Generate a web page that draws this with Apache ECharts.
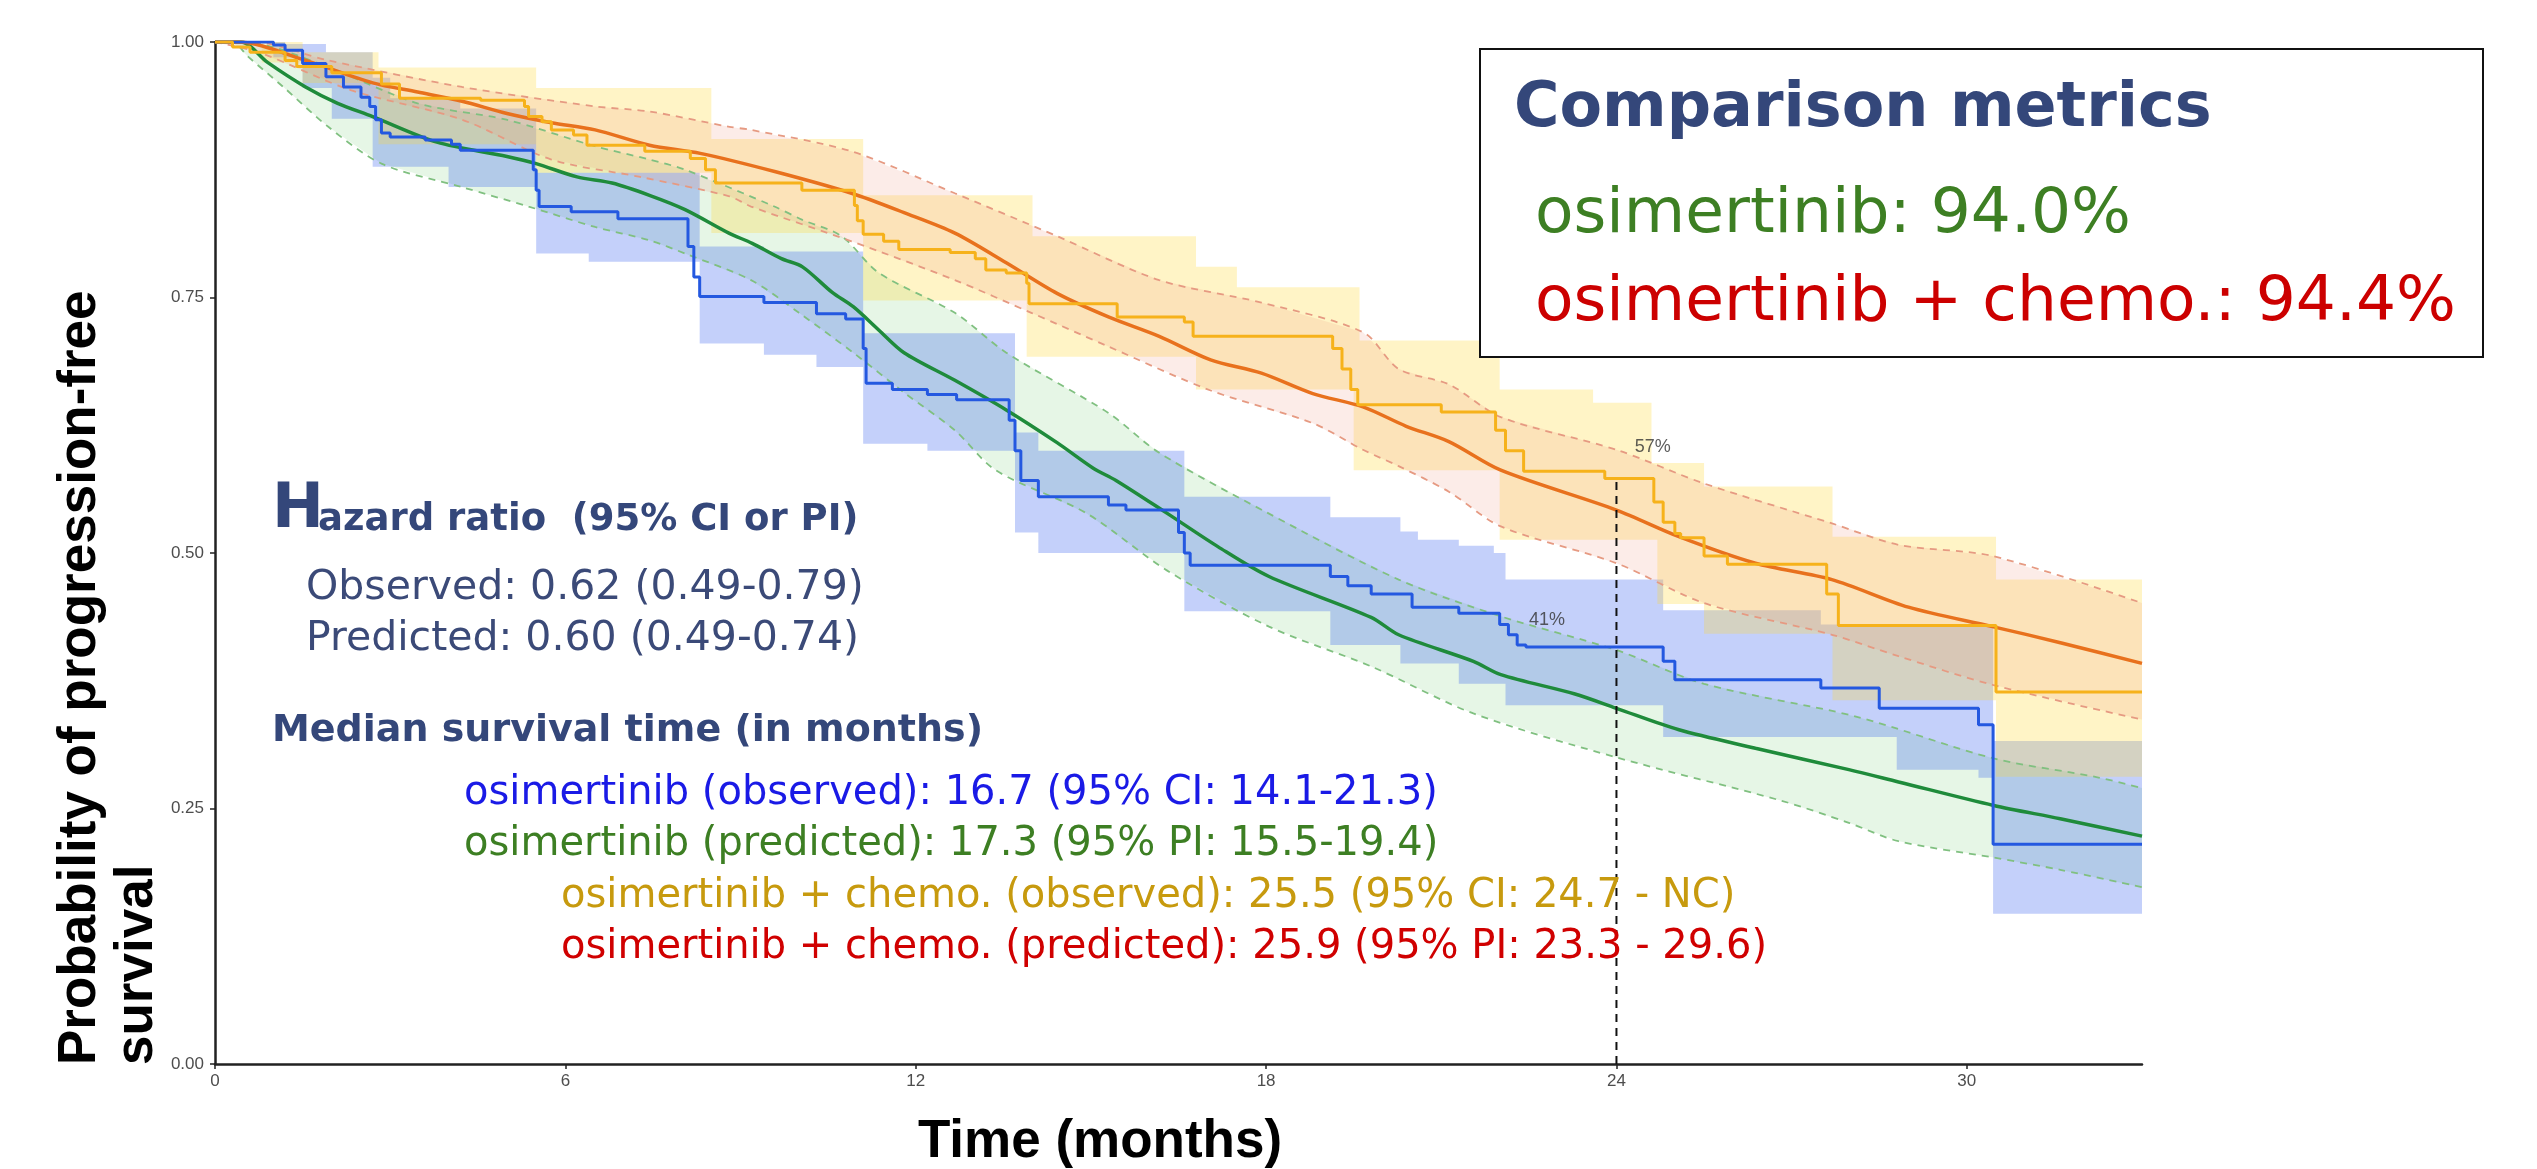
<!DOCTYPE html>
<html><head><meta charset="utf-8">
<script src="https://cdn.jsdelivr.net/npm/echarts@6/dist/echarts.min.js"></script>
<style>html,body{margin:0;padding:0;background:#fff}#c{width:2537px;height:1169px}</style>
</head><body><div id="c"></div>
<script>
// ---------- tick labels ----------
const xTicks = [0, 6, 12, 18, 24, 30];
const yTicks = [0, 0.25, 0.5, 0.75, 1];

// ---------- osimertinib: observed KM (step) + 95% CI ----------
const osiObs = [[0,1],[1.0,0.997],[1.2,0.992],[1.5,0.979],[1.9,0.966],[2.2,0.956],[2.5,0.946],[2.65,0.937],[2.75,0.924],[2.85,0.911],[3.0,0.907],[3.6,0.904],[4.05,0.9],[4.2,0.894],[5.45,0.875],[5.5,0.855],[5.55,0.839],[6.1,0.834],[6.9,0.827],[8.1,0.8],[8.2,0.77],[8.3,0.751],[9.4,0.745],[10.3,0.734],[10.8,0.729],[11.1,0.7],[11.15,0.666],[11.6,0.66],[12.2,0.655],[12.7,0.65],[13.6,0.63],[13.7,0.6],[13.8,0.571],[14.1,0.555],[15.3,0.547],[15.6,0.542],[16.5,0.52],[16.6,0.5],[16.7,0.488],[19.1,0.477],[19.4,0.468],[19.8,0.46],[20.5,0.447],[21.3,0.441],[22.0,0.43],[22.15,0.42],[22.3,0.41],[22.45,0.408],[24.8,0.394],[25.0,0.376],[27.5,0.368],[28.5,0.348],[30.2,0.332],[30.45,0.215],[33,0.215]];
const osiObsUp = [[0,1],[1.2,0.998],[1.9,0.99],[2.7,0.965],[3.0,0.945],[4.2,0.935],[5.5,0.872],[8.3,0.80],[9.4,0.795],[11.1,0.715],[13.7,0.618],[14.1,0.60],[16.6,0.555],[19.1,0.535],[20.3,0.521],[20.6,0.513],[21.3,0.507],[21.9,0.5],[22.1,0.474],[24.8,0.444],[27.5,0.43],[30.45,0.316],[33,0.316]];
const osiObsLo = [[0,1],[1.0,0.985],[1.5,0.955],[2.0,0.925],[2.7,0.878],[4.0,0.858],[5.5,0.793],[6.4,0.785],[8.3,0.705],[9.4,0.694],[10.3,0.682],[11.1,0.607],[12.2,0.6],[13.7,0.52],[14.1,0.50],[16.6,0.443],[19.1,0.41],[20.3,0.392],[21.3,0.372],[22.1,0.351],[24.8,0.32],[28.8,0.288],[30.2,0.28],[30.45,0.147],[33,0.147]];

// ---------- osimertinib: predicted + 95% PI ----------
const osiPred = [[0,1],[0.45,1.0],[0.9,0.98],[1.55,0.956],[2.1,0.94],[2.7,0.927],[3.8,0.902],[5.0,0.888],[5.5,0.881],[6.2,0.868],[6.8,0.862],[7.44,0.85],[8.05,0.836],[8.8,0.813],[9.2,0.803],[9.7,0.788],[10.06,0.78],[10.57,0.755],[10.93,0.741],[11.37,0.718],[11.8,0.696],[12.67,0.669],[13.55,0.64],[14.42,0.608],[15.04,0.583],[15.43,0.571],[16.3,0.539],[17.18,0.506],[18.05,0.477],[19.8,0.437],[20.27,0.42],[21.55,0.394],[22.02,0.381],[23.29,0.362],[24,0.348],[25.07,0.327],[26.38,0.309],[27.98,0.288],[28.83,0.276],[30.46,0.253],[31.6,0.24],[33,0.223]];
const osiPredUp = [[0,1],[0.5,1.0],[1.78,0.979],[3.47,0.94],[4.99,0.924],[6.51,0.898],[7.44,0.885],[8.05,0.875],[9.58,0.839],[10.06,0.826],[10.73,0.81],[11.37,0.774],[12.67,0.735],[13.55,0.696],[15.3,0.637],[16.17,0.598],[18.0,0.54],[20.27,0.474],[22.02,0.438],[24.0,0.405],[25.5,0.372],[28.1,0.34],[30.46,0.299],[32.2,0.281],[33,0.27]];
const osiPredLo = [[0,1],[0.3,1.0],[0.56,0.986],[1.17,0.956],[1.94,0.917],[2.85,0.881],[4.23,0.858],[5.37,0.839],[6.51,0.819],[7.44,0.806],[8.05,0.793],[9.18,0.767],[10.0,0.735],[10.93,0.696],[11.8,0.657],[12.67,0.62],[13.37,0.581],[14.92,0.539],[16.3,0.483],[18.05,0.428],[19.8,0.389],[21.55,0.343],[24.0,0.30],[26.8,0.258],[27.98,0.236],[28.83,0.218],[30.46,0.202],[31.6,0.19],[33,0.173]];

// ---------- osimertinib + chemo: observed KM (step) + 95% CI ----------
const comboObs = [[0,1],[0.3,0.995],[0.6,0.99],[1.2,0.982],[1.4,0.976],[2.0,0.97],[2.85,0.959],[3.16,0.945],[4.55,0.943],[5.3,0.937],[5.37,0.927],[5.6,0.922],[5.76,0.914],[6.14,0.909],[6.37,0.899],[7.36,0.893],[8.14,0.886],[8.4,0.875],[8.57,0.862],[10.05,0.855],[10.95,0.84],[11.0,0.825],[11.1,0.812],[11.45,0.805],[11.71,0.797],[12.59,0.794],[13.02,0.788],[13.2,0.777],[13.55,0.774],[13.9,0.764],[13.94,0.744],[15.45,0.731],[16.6,0.726],[16.75,0.712],[19.14,0.70],[19.3,0.68],[19.45,0.66],[19.57,0.645],[21.0,0.638],[21.93,0.62],[22.1,0.60],[22.41,0.58],[23.8,0.573],[24.64,0.55],[24.8,0.53],[25.0,0.519],[25.1,0.515],[25.5,0.497],[25.9,0.489],[27.6,0.46],[27.8,0.429],[30.5,0.364],[33,0.364]];
const comboObsUp = [[0,1],[1.5,0.99],[2.8,0.975],[5.5,0.955],[8.5,0.905],[11.1,0.85],[14.0,0.81],[16.8,0.78],[17.5,0.76],[19.6,0.708],[22.0,0.66],[23.6,0.647],[24.6,0.588],[25.5,0.565],[27.7,0.516],[30.5,0.474],[33,0.474]];
const comboObsLo = [[0,1],[0.8,0.98],[1.5,0.96],[2.8,0.90],[5.5,0.872],[8.5,0.813],[11.1,0.747],[13.9,0.692],[16.8,0.66],[19.5,0.581],[22.0,0.513],[24.7,0.45],[25.5,0.421],[27.7,0.356],[30.5,0.281],[33,0.281]];

// ---------- osimertinib + chemo: predicted + 95% PI ----------
const comboPred = [[0,1],[0.4,1.0],[1.55,0.982],[2.7,0.96],[3.47,0.951],[4.23,0.942],[5.0,0.93],[5.76,0.921],[6.51,0.914],[7.44,0.899],[8.31,0.891],[9.6,0.873],[10.9,0.852],[11.8,0.833],[12.67,0.813],[13.55,0.784],[14.42,0.754],[15.3,0.731],[16.17,0.712],[17.05,0.689],[17.92,0.676],[18.8,0.656],[19.66,0.643],[20.4,0.624],[21.13,0.609],[22.02,0.581],[24.0,0.542],[25.07,0.516],[26.38,0.49],[27.69,0.474],[29.0,0.447],[30.44,0.428],[31.62,0.412],[33,0.392]];
const comboPredUp = [[0,1],[0.64,1.0],[1.94,0.982],[4.23,0.956],[6.51,0.937],[7.44,0.932],[8.81,0.917],[9.18,0.914],[10.9,0.893],[12.67,0.852],[14.42,0.81],[16.17,0.767],[17.92,0.745],[19.66,0.716],[20.27,0.68],[21.13,0.665],[22.02,0.633],[24.0,0.601],[25.5,0.568],[27.69,0.529],[28.83,0.508],[30.44,0.497],[33,0.451]];
const comboPredLo = [[0,1],[0.79,0.989],[2.32,0.953],[4.23,0.924],[5.76,0.885],[7.28,0.868],[8.81,0.849],[9.18,0.839],[10.9,0.805],[12.67,0.767],[13.98,0.735],[15.3,0.702],[17.05,0.659],[18.8,0.627],[19.66,0.601],[20.27,0.585],[21.13,0.56],[22.02,0.526],[24.0,0.49],[25.5,0.451],[27.69,0.42],[28.83,0.399],[30.44,0.371],[33,0.337]];

// ---------- 24-month reference line and its labels ----------
const landmark = [[24, 0], [24, 0.573]];
const pctLabels = [[24.62, 0.604, '57%'], [22.81, 0.434, '41%']];

// ---------- annotation texts ----------
const metricsTitle = 'Comparison metrics';
const metricsLines = ['osimertinib: 94.0%', 'osimertinib + chemo.: 94.4%'];
const hrLines = ['Observed: 0.62 (0.49-0.79)', 'Predicted: 0.60 (0.49-0.74)'];
const medianLines = [
  'osimertinib (observed): 16.7 (95% CI: 14.1-21.3)',
  'osimertinib (predicted): 17.3 (95% PI: 15.5-19.4)',
  'osimertinib + chemo. (observed): 25.5 (95% CI: 24.7 - NC)',
  'osimertinib + chemo. (predicted): 25.9 (95% PI: 23.3 - 29.6)'
];

function stepify(pts) {
  const out = [];
  for (let i = 0; i < pts.length; i++) {
    if (i > 0) out.push([pts[i][0], pts[i - 1][1]]);
    out.push(pts[i]);
  }
  return out;
}
function band(up, lo, fill, step, z) {
  return {
    type: 'custom', silent: true, z: z, data: [[0, 0]], encode: { x: 0, y: 1 },
    renderItem: function (params, api) {
      const u = (step ? stepify(up) : up).map(p => api.coord(p));
      const l = (step ? stepify(lo) : lo).map(p => api.coord(p)).reverse();
      return { type: 'polygon', shape: { points: u.concat(l) }, style: { fill: fill } };
    }
  };
}
function line(data, color, width, extra) {
  return Object.assign({
    type: 'line', data: data, symbol: 'none', showSymbol: false, silent: true,
    lineStyle: { color: color, width: width }
  }, extra || {});
}
const dashG = { color: '#80c080', width: 1.8, type: [7, 6] };
const dashO = { color: '#e69a82', width: 1.8, type: [7, 6] };

const FONT = '"DejaVu Sans", sans-serif';
function txt(x, y, text, size, color, weight, extra) {
  return Object.assign({
    type: 'text', x: x, y: y, z: 100,
    style: {
      text: text, fontFamily: FONT, fontSize: size, fontWeight: weight || 'normal', fill: color,
      textAlign: 'left', textVerticalAlign: 'middle', align: 'left', verticalAlign: 'middle'
    }
  }, extra || {});
}

const chart = echarts.init(document.getElementById('c'));
chart.setOption({
  animation: false,
  backgroundColor: '#ffffff',
  grid: { left: 215, right: 395, top: 42, bottom: 105 },
  xAxis: {
    type: 'value', min: 0, max: 33, interval: 6,
    splitLine: { show: false },
    axisLine: { show: true, onZero: false, lineStyle: { color: '#222', width: 2.5 } },
    axisTick: { show: true, length: 5, lineStyle: { color: '#222', width: 1.5 }, customValues: xTicks },
    axisLabel: { customValues: xTicks, fontFamily: '"Liberation Sans", Arial, sans-serif', fontSize: 17, color: '#4d4d4d', margin: 9 }
  },
  yAxis: {
    type: 'value', min: 0, max: 1, interval: 0.25,
    splitLine: { show: false },
    axisLine: { show: true, onZero: false, lineStyle: { color: '#222', width: 2.5 } },
    axisTick: { show: true, length: 5, lineStyle: { color: '#222', width: 1.5 }, customValues: yTicks },
    axisLabel: { customValues: yTicks, formatter: v => Number(v).toFixed(2), fontFamily: '"Liberation Sans", Arial, sans-serif', fontSize: 17, color: '#4d4d4d', margin: 11 }
  },
  series: [
    band(osiPredUp, osiPredLo, 'rgba(100,200,100,0.16)', false, 1),
    band(osiObsUp, osiObsLo, 'rgba(60,100,240,0.30)', true, 1),
    band(comboObsUp, comboObsLo, 'rgba(255,215,50,0.28)', true, 1),
    band(comboPredUp, comboPredLo, 'rgba(240,150,130,0.18)', false, 1),
    line(osiPredUp, dashG.color, dashG.width, { smooth: 0.3, lineStyle: dashG, z: 2 }),
    line(osiPredLo, dashG.color, dashG.width, { smooth: 0.3, lineStyle: dashG, z: 2 }),
    line(comboPredUp, dashO.color, dashO.width, { smooth: 0.3, lineStyle: dashO, z: 2 }),
    line(comboPredLo, dashO.color, dashO.width, { smooth: 0.3, lineStyle: dashO, z: 2 }),
    line(osiPred, '#1f8b3b', 3.5, { smooth: 0.3, z: 3 }),
    line(comboPred, '#e8711d', 3.5, { smooth: 0.3, z: 3 }),
    line(osiObs, '#2458e0', 3, { step: 'end', z: 4 }),
    line(comboObs, '#f6b21b', 3, { step: 'end', z: 4 }),
    line(landmark, '#111', 2, { lineStyle: { color: '#111', width: 2, type: [8, 6] }, z: 5 }),
    {
      type: 'scatter', data: pctLabels, symbolSize: 1, silent: true, z: 6,
      itemStyle: { color: 'rgba(0,0,0,0)' },
      label: { show: true, position: 'inside', formatter: p => p.data[2], fontFamily: '"Liberation Sans", Arial, sans-serif', fontSize: 18, color: '#333' }
    }
  ],
  graphic: [
    { type: 'rect', z: 90, shape: { x: 1480, y: 49, width: 1003, height: 308 }, style: { fill: '#fff', stroke: '#111', lineWidth: 2 } },
    txt(1514, 110, metricsTitle, 62, '#34477a', 'bold'),
    txt(1535, 216, metricsLines[0], 63, '#3d7f23'),
    txt(1535, 304, metricsLines[1], 63, '#cc0000'),
    txt(272, 511, 'H', 62, '#34477a', 'bold'),
    txt(318, 520, 'azard ratio  (95% CI or PI)', 37, '#34477a', 'bold'),
    txt(306, 588, hrLines[0], 41, '#3b4a78'),
    txt(306, 639, hrLines[1], 41, '#3b4a78'),
    txt(272, 731, 'Median survival time (in months)', 38, '#34477a', 'bold'),
    txt(464, 794, medianLines[0], 40, '#1a1ae6'),
    txt(464, 845, medianLines[1], 40, '#3d7f23'),
    txt(561, 897, medianLines[2], 40, '#c79a0e'),
    txt(561, 948, medianLines[3], 40, '#d00000'),
    { type: 'text', x: 1100, y: 1142, z: 100, style: { text: 'Time (months)', fontFamily: '"Liberation Sans", Arial, sans-serif', fontSize: 53, fontWeight: 'bold', fill: '#000', textAlign: 'center', textVerticalAlign: 'middle', align: 'center', verticalAlign: 'middle' } },
    { type: 'text', x: 80, y: 1065, rotation: Math.PI / 2, z: 100, style: { text: 'Probability of progression-free', fontFamily: '"Liberation Sans", Arial, sans-serif', fontSize: 53, fontWeight: 'bold', fill: '#000', textAlign: 'left', textVerticalAlign: 'middle', align: 'left', verticalAlign: 'middle' } },
    { type: 'text', x: 137, y: 1065, rotation: Math.PI / 2, z: 100, style: { text: 'survival', fontFamily: '"Liberation Sans", Arial, sans-serif', fontSize: 53, fontWeight: 'bold', fill: '#000', textAlign: 'left', textVerticalAlign: 'middle', align: 'left', verticalAlign: 'middle' } }
  ]
});
</script></body></html>
